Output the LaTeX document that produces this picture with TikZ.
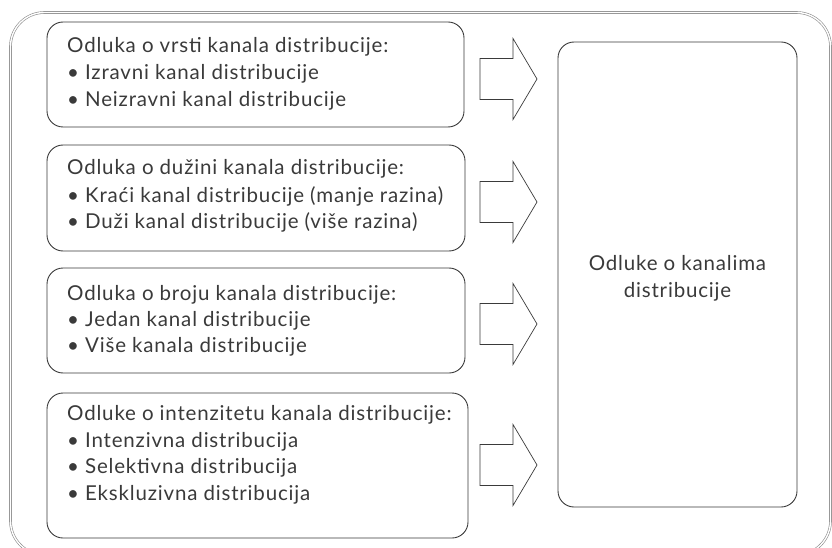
\documentclass[tikz,border=0pt]{standalone}
\usepackage{fontspec}
\setmainfont{Lato}[LetterSpace=4]
\usetikzlibrary{calc}
\definecolor{ink}{HTML}{3A3A3A}
\definecolor{frame}{HTML}{8A8A8A}
\tikzset{
  box/.style={draw=ink, line width=0.9pt, rounded corners=16pt, inner sep=0pt},
  txt/.style={anchor=base west, inner sep=0pt, text=ink, font=\fontsize{20.5}{27}\selectfont},
  ctxt/.style={txt, anchor=base},
  blockarrow/.style={draw=ink, line width=0.7pt, fill=white, line join=miter},
  outer/.style={draw=frame, line width=0.6pt, double=white, double distance=1.4pt, rounded corners=34pt}
}
\begin{document}
\begin{tikzpicture}[x=1pt,y=-1pt]
\useasboundingbox (0,0) rectangle (832,548);
\draw[outer] (10.5,12.5) rectangle (830.5,555);
% left boxes
\node[box, minimum width=417pt, minimum height=105pt] (b1) at (255.5,74.5) {};
\node[box, minimum width=418pt, minimum height=106pt] (b2) at (256,198) {};
\node[box, minimum width=418pt, minimum height=105pt] (b3) at (256,320.5) {};
\node[box, minimum width=421pt, minimum height=145pt] (b4) at (257.5,465.5) {};
% right box
\node[box, minimum width=239pt, minimum height=465pt] (r) at (677.5,274.5) {};
\node[ctxt] (r1) at (677.5,270) {Odluke o kanalima};
\node[ctxt] (r2) at (677.5,297) {distribucije};
% texts
\node[txt] (t11) at (67,53) {Odluka o vrsti kanala distribucije:};
\node[txt] (t12) at (67,80) {• Izravni kanal distribucije};
\node[txt] (t13) at (67,107) {• Neizravni kanal distribucije};
\node[txt] (t21) at (67,175) {Odluka o dužini kanala distribucije:};
\node[txt] (t22) at (67,202) {• Kraći kanal distribucije (manje razina)};
\node[txt] (t23) at (67,229) {• Duži kanal distribucije (više razina)};
\node[txt] (t31) at (67,300) {Odluka o broju kanala distribucije:};
\node[txt] (t32) at (67,326) {• Jedan kanal distribucije};
\node[txt] (t33) at (67,352) {• Više kanala distribucije};
\node[txt] (t41) at (67,420) {Odluke o intenzitetu kanala distribucije:};
\node[txt] (t42) at (67,447) {• Intenzivna distribucija};
\node[txt] (t43) at (67,473) {• Selektivna distribucija};
\node[txt] (t44) at (67,500) {• Ekskluzivna distribucija};
% block arrows
\foreach \n/\y in {1/79,2/202,3/324,4/465}{
  \coordinate (a\n) at (480,\y);
  \draw[blockarrow] (a\n) ++(0,-20.5) -- ++(33,0) -- ++(0,-20) -- ++(24,40.5) -- ++(-24,40.5) -- ++(0,-20) -- ++(-33,0) -- cycle;
}
\end{tikzpicture}
\end{document}
